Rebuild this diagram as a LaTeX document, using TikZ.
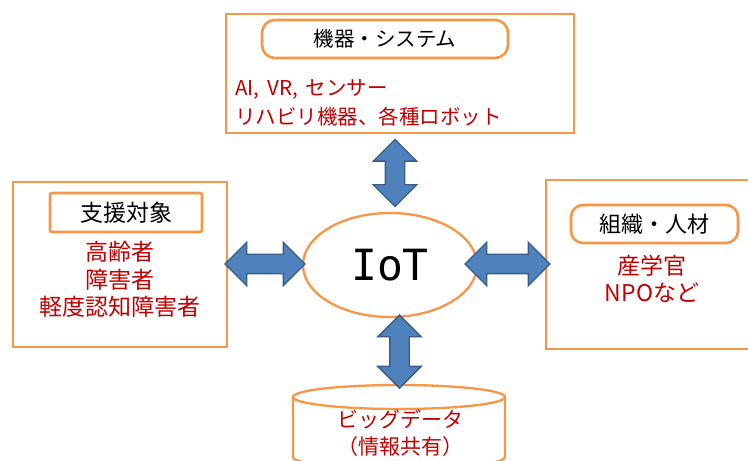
\documentclass[tikz,border=0pt]{standalone}
\usepackage{fontspec}
\setmainfont{Noto Sans CJK JP}
\newfontfamily\iotfont{DejaVu Sans Mono}
\usepackage{xcolor}
\usepackage{tikz}
\usetikzlibrary{calc, shapes.geometric, shapes.arrows, positioning}

\definecolor{wakuiro}{HTML}{F79646}
\definecolor{akairo}{HTML}{C00000}
\definecolor{aoiro}{HTML}{4F81BD}
\definecolor{aosen}{HTML}{385D8A}

\begin{document}
\begin{tikzpicture}[x=1pt, y=1pt,
    waku/.style={draw=wakuiro, line width=2.3pt, inner sep=0pt},
    midashi/.style={draw=wakuiro, line width=2.6pt, fill=white, inner sep=0pt},
    akamoji/.style={text=akairo, inner sep=0pt},
    yajirushi/.style={double arrow, draw=aosen, fill=aoiro, line width=1.4pt,
        inner xsep=0pt, inner ysep=9pt, double arrow head extend=12pt, minimum height=#1}]
    \useasboundingbox (0,0) rectangle (748,461);
    \clip (0,0) rectangle (748,461);

    % 中心
    \node[ellipse, draw=wakuiro, line width=2.3pt, minimum width=174pt, minimum height=104pt,
        font=\iotfont\fontsize{43}{48}\selectfont] (iot) at (390,196) {IoT};

    % 機器・システム
    \node[waku, minimum width=348pt, minimum height=119pt] (kiki) at (400,387.5) {};
    \node[midashi, rounded corners=13pt, minimum width=246pt, minimum height=38pt,
        font=\fontsize{20.5}{24}\selectfont] (kikititle) at (385,422) {機器・システム};
    \node[akamoji, anchor=west, align=left, font=\fontsize{20.5}{29}\selectfont]
        (kikinaiyo) at (235,358.5) {AI,\, VR,\, センサー\\リハビリ機器、各種ロボット};

    % 支援対象
    \node[waku, minimum width=214pt, minimum height=165pt] (taisho) at (120,196.5) {};
    \node[midashi, rounded corners=2pt, minimum width=152pt, minimum height=39pt,
        font=\fontsize{23}{27}\selectfont] (taishotitle) at (126,248.5) {支援対象};
    \node[akamoji, align=center, font=\fontsize{23}{27.5}\selectfont]
        (taishonaiyo) at (120,181.5) {高齢者\\障害者\\軽度認知障害者};

    % 組織・人材
    \node[waku, minimum width=224pt, minimum height=169pt] (soshiki) at (658,196.5) {};
    \node[midashi, rounded corners=12pt, minimum width=167pt, minimum height=38pt,
        font=\fontsize{22}{26}\selectfont] (soshikititle) at (654.5,237) {組織・人材};
    \node[akamoji, align=center, font=\fontsize{23}{27}\selectfont]
        (soshikinaiyo) at (652,182.5) {産学官\\NPOなど};

    % ビッグデータ
    \draw[draw=wakuiro, line width=2.3pt] (399,64) ellipse [x radius=106, y radius=12];
    \draw[draw=wakuiro, line width=2.3pt] (293,64) -- (293,4)
        arc[start angle=180, end angle=360, x radius=106, y radius=12] -- (505,64);
    \coordinate (deta) at (399,76);
    \node[akamoji, align=center, font=\fontsize{21}{27}\selectfont]
        (detanaiyo) at (400,27.5) {ビッグデータ\\（情報共有）};

    % 矢印
    \node[yajirushi=67pt, rotate=90] (ue) at ($(kiki.south)!0.5!(iot.north)$) {};
    \node[yajirushi=73pt, rotate=90] (shita) at ($(iot.south)!0.5!(deta)+(5,0)$) {};
    \node[yajirushi=80pt] (hidari) at ($(taisho.east|-iot)!0.5!(iot.west)+(0,1)$) {};
    \node[yajirushi=85pt] (migi) at ($(iot.east)!0.5!(soshiki.west|-iot)+(-4,1)$) {};

\end{tikzpicture}
\end{document}
